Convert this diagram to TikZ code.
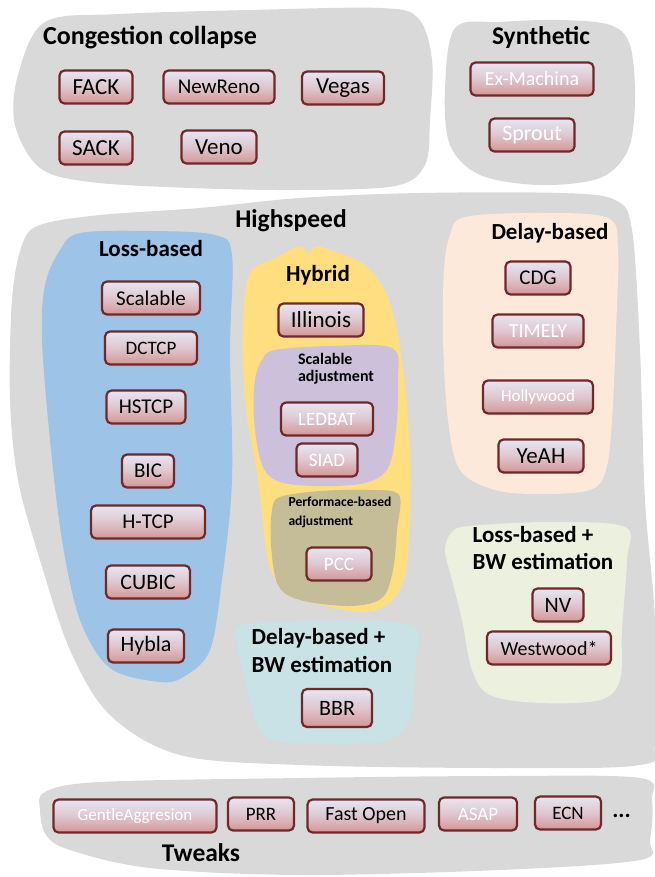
\documentclass[tikz,border=0pt]{standalone}
\usepackage{fontspec}
\setmainfont{Carlito}
\usetikzlibrary{positioning}
\definecolor{blobgray}{RGB}{217, 217, 217}
\definecolor{lossblue}{RGB}{157, 195, 230}
\definecolor{hybyellow}{RGB}{255, 222, 128}
\definecolor{scalpurple}{RGB}{204, 192, 218}
\definecolor{perfolive}{RGB}{196, 189, 151}
\definecolor{delaypeach}{RGB}{253, 233, 217}
\definecolor{bwcyan}{RGB}{200, 226, 230}
\definecolor{bwgreen}{RGB}{235, 241, 222}
\definecolor{boxedge}{RGB}{112, 40, 40}
\definecolor{boxtop}{RGB}{230, 230, 244}
\definecolor{boxbot}{RGB}{212, 150, 150}

\begin{document}
\begin{tikzpicture}[x=1pt, y=-1pt,
    algo/.style={draw=boxedge, line width=2.2pt, rounded corners=5pt, top color=boxtop, bottom color=boxbot, middle color=boxtop!60!boxbot, minimum height=33pt, inner sep=0pt, text=black},
    algow/.style={algo, text=white},
    grp/.style={font=\bfseries\fontsize{23}{26}\selectfont, inner sep=0pt},
    blob/.style={smooth cycle, tension=0.55}]
    \useasboundingbox (0,0) rectangle (655,877);

    % group shapes
    \fill[blobgray] plot[blob] coordinates {(45,22) (120,14) (250,10) (380,8) (418,18) (432,60) (430,120) (425,165) (395,186) (300,190) (190,188) (90,182) (40,168) (15,125) (18,75)};
    \fill[blobgray] plot[blob] coordinates {(455,28) (500,22) (560,20) (610,25) (630,45) (635,100) (628,150) (600,178) (540,185) (480,175) (450,145) (445,90)};
    \fill[blobgray] plot[blob] coordinates {(40,225) (100,215) (200,208) (300,198) (420,193) (560,193) (615,200) (632,230) (640,350) (645,500) (655,620) (655,740) (640,765) (500,768) (300,765) (180,755) (110,715) (70,650) (40,560) (18,480) (10,400) (12,300) (22,245)};
    \fill[blobgray] plot[blob] coordinates {(45,792) (100,782) (300,778) (500,776) (640,778) (652,800) (650,840) (640,860) (500,870) (300,875) (150,868) (70,850) (46,835) (40,810)};
    \fill[lossblue] plot[blob] coordinates {(80,233) (150,231) (215,235) (232,255) (230,350) (232,480) (222,580) (210,650) (185,676) (160,682) (110,668) (80,620) (62,540) (50,440) (42,340) (45,285) (60,250)};
    \fill[hybyellow] plot[blob] coordinates {(250,273) (275,258) (300,246) (308,253) (316,246) (330,250) (365,265) (388,298) (402,360) (410,450) (410,520) (405,575) (390,602) (363,612) (320,604) (285,590) (268,560) (258,480) (245,400) (243,320)};
    \fill[scalpurple] plot[blob] coordinates {(275,350) (330,346) (392,348) (398,380) (396,430) (388,468) (365,483) (320,486) (280,482) (262,465) (254,420) (255,380) (262,360)};
    \fill[perfolive] plot[blob] coordinates {(280,497) (320,491) (370,490) (399,495) (397,530) (393,570) (382,598) (350,606) (300,600) (278,585) (271,545) (272,510)};
    \fill[bwcyan] plot[blob] coordinates {(245,624) (320,621) (412,625) (416,660) (413,700) (405,728) (380,742) (310,744) (265,736) (250,700) (240,660) (236,635)};
    \fill[delaypeach] plot[blob] coordinates {(465,217) (540,213) (608,218) (618,250) (616,330) (612,420) (606,470) (590,490) (540,494) (495,490) (460,470) (448,420) (443,340) (444,270) (450,235)};
    \fill[bwgreen] plot[blob] coordinates {(470,526) (550,522) (625,527) (627,560) (622,630) (620,680) (600,700) (540,703) (490,695) (472,670) (462,620) (452,580) (445,550) (452,532)};

    % titles
    \node[grp, font=\bfseries\fontsize{26}{28}\selectfont] (congt) at (150,38) {Congestion collapse};
    \node[grp, font=\bfseries\fontsize{25.5}{28}\selectfont] (synt) at (541,38) {Synthetic};
    \node[grp, font=\bfseries\fontsize{25.5}{28}\selectfont] (hst) at (291,221) {Highspeed};
    \node[grp] (losst) at (151,249) {Loss-based};
    \node[grp] (hybt) at (318,275) {Hybrid};
    \node[grp] (delt) at (550,233) {Delay-based};
    \node[grp, font=\bfseries\fontsize{16}{17}\selectfont, align=left] (scalt) at (336,369) {Scalable\\adjustment};
    \node[grp, font=\bfseries\fontsize{13.6}{19}\selectfont, align=left] (perft) at (340,512) {Performace-based\\adjustment};
    \node[grp, font=\bfseries\fontsize{23}{28}\selectfont, align=left] (dbwt) at (322,651) {Delay-based +\\BW estimation};
    \node[grp, font=\bfseries\fontsize{23}{27}\selectfont, align=left] (lbwt) at (543,548) {Loss-based +\\BW estimation};
    \node[grp, font=\bfseries\fontsize{25.5}{28}\selectfont] (tweakt) at (201,853) {Tweaks};

    % congestion collapse
    \node[algo, minimum width=73pt, font=\fontsize{23}{24}\selectfont] (fack) at (96,87) {FACK};
    \node[algo, minimum width=111pt, font=\fontsize{21}{24}\selectfont] (newreno) at (219,87) {NewReno};
    \node[algo, minimum width=82pt, font=\fontsize{23}{24}\selectfont] (vegas) at (343,88) {Vegas};
    \node[algo, minimum width=73pt, font=\fontsize{23}{24}\selectfont] (sack) at (96,148) {SACK};
    \node[algo, minimum width=75pt, font=\fontsize{23}{24}\selectfont] (veno) at (219,147) {Veno};

    % synthetic
    \node[algow, minimum width=123pt, font=\fontsize{20}{24}\selectfont] (exm) at (532,79) {Ex-Machina};
    \node[algow, minimum width=85pt, font=\fontsize{22}{24}\selectfont] (sprout) at (532,135) {Sprout};

    % loss-based
    \node[algo, minimum width=98pt, font=\fontsize{21}{24}\selectfont] (scal) at (151,298) {Scalable};
    \node[algo, minimum width=92pt, font=\fontsize{19}{24}\selectfont] (dctcp) at (151,348) {DCTCP};
    \node[algo, minimum width=79pt, font=\fontsize{21}{24}\selectfont] (hstcp) at (146,407) {HSTCP};
    \node[algo, minimum width=52pt, font=\fontsize{21}{24}\selectfont] (bic) at (148,471) {BIC};
    \node[algo, minimum width=114pt, font=\fontsize{21}{24}\selectfont] (htcp) at (148,522) {H-TCP};
    \node[algo, minimum width=84pt, font=\fontsize{22}{24}\selectfont] (cubic) at (148,582) {CUBIC};
    \node[algo, minimum width=76pt, font=\fontsize{22}{24}\selectfont] (hybla) at (146,646) {Hybla};

    % hybrid
    \node[algo, minimum width=85pt, font=\fontsize{23}{24}\selectfont] (illinois) at (321,320) {Illinois};
    \node[algow, minimum width=92pt, font=\fontsize{19}{24}\selectfont] (ledbat) at (327,419) {LEDBAT};
    \node[algow, minimum width=61pt, font=\fontsize{19}{24}\selectfont] (siad) at (327,460) {SIAD};
    \node[algow, minimum width=65pt, font=\fontsize{19}{24}\selectfont] (pcc) at (339,564) {PCC};
    \node[algo, minimum width=70pt, minimum height=38pt, font=\fontsize{22}{24}\selectfont] (bbr) at (337,708) {BBR};

    % delay-based
    \node[algo, minimum width=65pt, font=\fontsize{21}{24}\selectfont] (cdg) at (538,278) {CDG};
    \node[algow, minimum width=91pt, font=\fontsize{20}{24}\selectfont] (timely) at (538,331) {TIMELY};
    \node[algow, minimum width=110pt, font=\fontsize{17}{24}\selectfont] (hollywood) at (538,397) {Hollywood};
    \node[algo, minimum width=85pt, font=\fontsize{23}{24}\selectfont] (yeah) at (541,456) {YeAH};
    \node[algo, minimum width=51pt, font=\fontsize{22}{24}\selectfont] (nv) at (558,605) {NV};
    \node[algo, minimum width=124pt, font=\fontsize{20}{24}\selectfont] (westwood) at (549,648) {Westwood*};

    % tweaks
    \node[algow, minimum width=163pt, font=\fontsize{17}{24}\selectfont] (gentle) at (135,816) {GentleAggresion};
    \node[algo, minimum width=66pt, font=\fontsize{19}{24}\selectfont] (prr) at (261,814) {PRR};
    \node[algo, minimum width=117pt, font=\fontsize{20}{24}\selectfont] (fastopen) at (366,816) {Fast Open};
    \node[algow, minimum width=78pt, font=\fontsize{19}{24}\selectfont] (asap) at (478,814) {ASAP};
    \node[algo, minimum width=66pt, font=\fontsize{19}{24}\selectfont] (ecn) at (568,813) {ECN};
    \node[grp, right=10pt of ecn, yshift=-3pt] (more) {...};
\end{tikzpicture}
\end{document}
